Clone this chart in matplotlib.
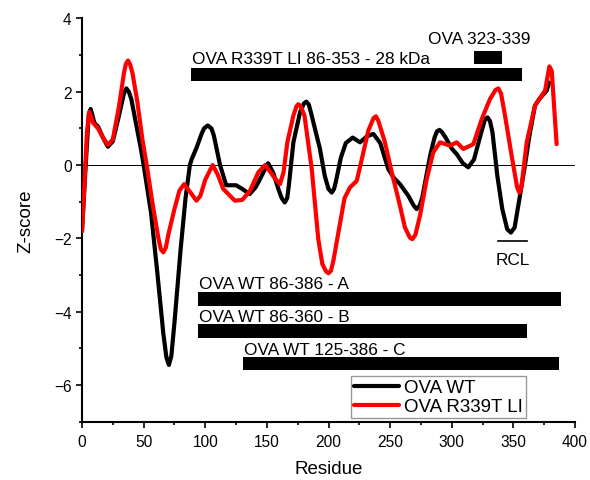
import matplotlib
matplotlib.use("Agg")
import matplotlib.pyplot as plt

plt.rcParams['font.family'] = ['Liberation Sans', 'DejaVu Sans']

# OVA WT z-score profile
wt_x = [0, 3, 5.5, 7, 8.5, 10, 13, 17, 21, 25, 30, 34, 36, 38, 40, 44, 48, 50, 56, 61,
        66, 68.5, 70.5, 72.5, 75, 80, 84, 87.5, 89, 93, 97, 99, 102, 105, 107, 112, 117,
        121, 125, 130, 136, 141, 144.4, 151, 155, 159.3, 162, 164.5, 166.5, 168, 171.5,
        176.9, 180, 182, 184, 186, 190.4, 193, 197, 200, 202.6, 204.5, 206, 210, 214,
        219.6, 225.6, 231, 236.4, 242, 248.5, 253, 258, 264.8, 269, 271.5, 274, 276,
        282.4, 286, 288, 290, 292, 295, 300, 304, 309, 313.4, 318, 324, 327, 329, 331,
        333, 337, 341, 345, 348, 351, 355, 359.4, 363, 367.5, 371, 377, 379]
wt_y = [-1.8, 0.0, 1.4, 1.53, 1.35, 1.15, 1.05, 0.75, 0.5, 0.65, 1.35, 1.95, 2.09, 2.0,
        1.8, 1.1, 0.4, 0.0, -1.3, -2.9, -4.6, -5.25, -5.45, -5.2, -4.3, -2.3, -0.9, 0.0,
        0.16, 0.48, 0.85, 1.0, 1.08, 1.0, 0.8, 0.0, -0.55, -0.55, -0.55, -0.65, -0.79,
        -0.6, -0.38, 0.05, -0.2, -0.65, -0.9, -1.02, -0.9, -0.5, 0.62, 1.44, 1.68, 1.73,
        1.65, 1.4, 0.8, 0.45, -0.3, -0.65, -0.75, -0.65, -0.45, 0.2, 0.6, 0.75, 0.62,
        0.78, 0.85, 0.6, -0.11, -0.35, -0.52, -0.84, -1.1, -1.2, -1.1, -0.9, 0.25, 0.75,
        0.92, 0.96, 0.9, 0.75, 0.45, 0.3, 0.05, -0.06, 0.15, 0.9, 1.25, 1.3, 1.2, 0.9,
        -0.3, -1.2, -1.75, -1.84, -1.7, -0.9, 0.0, 0.8, 1.62, 1.8, 2.03, 2.25]

# OVA R339T LI z-score profile
lt_x = [0, 2, 4, 6, 9, 13, 17, 21, 25, 30, 34, 35.5, 37.3, 39, 41, 45, 49, 52.5, 57, 62,
        64, 66, 68, 70, 75, 79, 82.8, 87, 92.8, 96, 100, 106, 110, 114.6, 124, 130,
        136.3, 143, 148.5, 152, 156.8, 160.6, 163.5, 166.6, 171.5, 174, 175.5, 177.5,
        180.5, 186.4, 191.7, 195, 198, 200, 202, 204, 208, 213, 217.4, 222.9, 227, 232.3,
        236.5, 238.5, 240.5, 245.8, 251.3, 258, 262, 266, 268, 270.5, 274.2, 279.7, 285,
        290.5, 298.6, 304, 309.4, 317.5, 324.3, 331, 335.5, 337.8, 340, 343.2, 348.6,
        353, 354.8, 356.5, 360.8, 367.5, 372, 375.7, 379.2, 381.1, 385.1]
lt_y = [-1.8, -0.5, 0.9, 1.45, 1.15, 1.0, 0.75, 0.55, 0.7, 1.6, 2.5, 2.75, 2.85, 2.75,
        2.5, 1.7, 0.7, 0.0, -1.0, -2.0, -2.3, -2.38, -2.25, -1.9, -1.2, -0.7, -0.52,
        -0.7, -0.97, -0.84, -0.4, 0.0, -0.25, -0.65, -0.97, -0.95, -0.7, -0.2, 0.0,
        -0.15, -0.38, -0.52, -0.2, 0.62, 1.35, 1.6, 1.66, 1.6, 1.35, -0.11, -2.02, -2.7,
        -2.9, -2.95, -2.88, -2.6, -1.84, -0.9, -0.61, -0.43, 0.16, 0.94, 1.28, 1.33, 1.2,
        0.62, -0.2, -1.11, -1.7, -1.98, -2.02, -1.9, -1.38, -0.38, 0.35, 0.62, 0.53,
        0.62, 0.44, 0.57, 1.25, 1.8, 2.05, 2.09, 1.95, 1.35, 0.25, -0.6, -0.75, -0.6,
        0.62, 1.62, 1.85, 2.03, 2.69, 2.57, 0.57]

# fragment bars: label, start, end, bottom, top
bar_labels = ['OVA R339T LI 86-353 - 28 kDa', 'OVA 323-339', 'OVA WT 86-386 - A',
              'OVA WT 86-360 - B', 'OVA WT 125-386 - C']
bar_start = [88.4, 317.8, 94.4, 94.4, 130.9]
bar_end = [356.8, 340.5, 388.4, 360.8, 386.8]
bar_bottom = [2.28, 2.75, -3.85, -4.72, -5.59]
bar_top = [2.66, 3.12, -3.47, -4.34, -5.22]
label_x = [88.9, 281.0, 95.2, 95.2, 131.7]
label_y = [2.77, 3.32, -3.36, -4.25, -5.14]

rcl_start, rcl_end, rcl_y = 337.8, 360.8, -2.06

fig = plt.figure(figsize=(5.9, 4.81), dpi=100)
ax = fig.add_axes([0.139, 0.121, 0.8356, 0.8387])

# zero line
ax.plot([0, 400], [0, 0], color='black', linewidth=0.7, zorder=1)

ax.plot(wt_x, wt_y, color='black', linewidth=3, label='OVA WT', zorder=3,
        solid_joinstyle='round', solid_capstyle='round')
ax.plot(lt_x, lt_y, color='#ff0000', linewidth=3, label='OVA R339T LI', zorder=4,
        solid_joinstyle='round', solid_capstyle='round')

for lab, s, e, b, t, lx, ly in zip(bar_labels, bar_start, bar_end, bar_bottom, bar_top,
                                   label_x, label_y):
    ax.barh((b + t) / 2, e - s, height=t - b, left=s, color='black', zorder=2)
    ax.text(lx, ly, lab, fontsize=12.4, va='baseline', ha='left')

# RCL marker
ax.plot([rcl_start, rcl_end], [rcl_y, rcl_y], color='black', linewidth=1.2)
ax.text((rcl_start + rcl_end) / 2, -2.7, 'RCL', fontsize=12.4, ha='center', va='baseline')

ax.set_xlim(0, 400)
ax.set_ylim(-7, 4)
ax.set_xticks(range(0, 401, 50))
ax.set_xticks(range(25, 400, 50), minor=True)
ax.set_yticks([-6, -4, -2, 0, 2, 4])
ax.set_yticks([-7, -5, -3, -1, 1, 3], minor=True)
ax.tick_params(which='major', length=4, width=1.2, labelsize=11.2, direction='out')
ax.tick_params(axis='x', which='major', pad=5)
ax.tick_params(which='minor', length=2.5, width=1.2, direction='out')

for side in ['top', 'right']:
    ax.spines[side].set_visible(False)
for side in ['left', 'bottom']:
    ax.spines[side].set_linewidth(1.5)

ax.set_xlabel('Residue', fontsize=13.5, labelpad=8)
ax.set_ylabel('Z-score', fontsize=13.5, labelpad=14)

leg = ax.legend(loc='lower left', bbox_to_anchor=(0.545, 0.009), fontsize=13.5,
                frameon=True, fancybox=False, edgecolor='gray', handlelength=2.4,
                handletextpad=0.3, borderpad=0.15, labelspacing=0.1, borderaxespad=0)
leg.get_frame().set_linewidth(1.0)

fig.savefig('out.png', dpi=100)
